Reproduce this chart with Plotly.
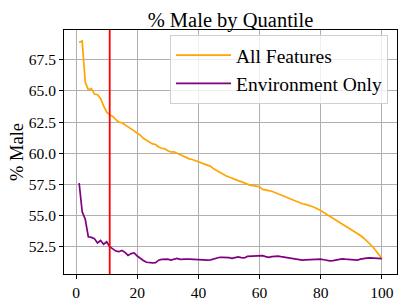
import plotly.graph_objects as go
import numpy as np

quantiles = list(range(1, 101))

all_features = [
    68.9, 69.0, 65.7, 65.1, 65.2, 64.75, 64.7, 64.4, 63.8, 63.3,
    63.1, 62.95, 62.7, 62.5, 62.45, 62.3, 62.1, 61.95, 61.8, 61.6,
    61.45, 61.2, 61.05, 60.95, 60.75, 60.7, 60.5, 60.4, 60.35, 60.2,
    60.1, 60.12, 60.0, 59.85, 59.75, 59.65, 59.55, 59.5, 59.4, 59.35,
    59.2, 59.1, 59.0, 58.95, 58.75, 58.6, 58.5, 58.3, 58.2, 58.1,
    57.98, 57.9, 57.8, 57.72, 57.6, 57.5, 57.42, 57.4, 57.38, 57.3,
    57.1, 57.02, 57.0, 56.95, 56.85, 56.75, 56.65, 56.5, 56.4, 56.3,
    56.22, 56.12, 56.05, 55.95, 55.9, 55.85, 55.75, 55.65, 55.55, 55.4,
    55.25, 55.1, 54.95, 54.8, 54.65, 54.5, 54.35, 54.2, 54.05, 53.9,
    53.75, 53.6, 53.4, 53.2, 52.98, 52.75, 52.5, 52.2, 51.9, 51.55,
]

environment_only = [
    57.6, 55.3, 54.7, 53.3, 53.25, 53.15, 52.8, 53.0, 52.7, 52.9,
    52.5, 52.3, 52.15, 52.1, 52.2, 52.05, 51.8, 51.95, 52.0, 51.75,
    51.55, 51.4, 51.25, 51.2, 51.2, 51.22, 51.42, 51.48, 51.52, 51.5,
    51.43, 51.5, 51.56, 51.48, 51.52, 51.5, 51.5, 51.48, 51.46, 51.43,
    51.43, 51.4, 51.42, 51.45, 51.52, 51.6, 51.65, 51.64, 51.65, 51.62,
    51.56, 51.65, 51.68, 51.62, 51.6, 51.72, 51.74, 51.76, 51.78, 51.8,
    51.78, 51.7, 51.65, 51.7, 51.74, 51.75, 51.7, 51.66, 51.62, 51.6,
    51.56, 51.5, 51.45, 51.43, 51.45, 51.46, 51.48, 51.5, 51.48, 51.5,
    51.45, 51.4, 51.36, 51.38, 51.44, 51.5, 51.53, 51.5, 51.48, 51.48,
    51.44, 51.43, 51.5, 51.56, 51.58, 51.6, 51.6, 51.58, 51.56, 51.55,
]

cutoff_quantile = 11

x_ticks = [0, 20, 40, 60, 80, 100]
y_ticks = [52.5, 55.0, 57.5, 60.0, 62.5, 65.0, 67.5]

FONT = "Liberation Serif"

fig = go.Figure()
fig.add_trace(go.Scatter(x=quantiles, y=all_features, mode="lines",
                         name="All Features",
                         line=dict(color="orange", width=1.7)))
fig.add_trace(go.Scatter(x=quantiles, y=environment_only, mode="lines",
                         name="Environment Only",
                         line=dict(color="purple", width=1.7)))

fig.add_shape(type="line", x0=cutoff_quantile, x1=cutoff_quantile,
              yref="paper", y0=0, y1=1, line=dict(color="red", width=1.8))

xmin, xmax = min(quantiles), max(quantiles)
xpad = 0.05 * (xmax - xmin)
allv = np.array(all_features + environment_only)
ymin, ymax = allv.min(), allv.max()
ypad = 0.05 * (ymax - ymin)

axis_common = dict(showline=True, linecolor="black", linewidth=1, mirror=True,
                   showgrid=True, gridcolor="#b0b0b0", gridwidth=0.8,
                   ticks="outside", ticklen=4, tickcolor="black",
                   tickfont=dict(family=FONT, size=15.5, color="black"),
                   zeroline=False, automargin=False)

fig.update_xaxes(range=[xmin - xpad, xmax + xpad], tickvals=x_ticks, **axis_common)
fig.update_yaxes(range=[ymin - ypad, ymax + ypad], tickvals=y_ticks,
                 tickformat=".1f",
                 title=dict(text="% Male", font=dict(family=FONT, size=18.5, color="black"),
                            standoff=0),
                 **axis_common)

fig.update_layout(
    width=407, height=305,
    margin=dict(l=64, r=10, t=30, b=31),
    paper_bgcolor="white", plot_bgcolor="white",
    font=dict(family=FONT, color="black"),
    title=dict(text="% Male by Quantile", x=0.5, xref="paper", xanchor="center",
               y=1, yref="paper", yanchor="bottom", pad=dict(b=3),
               font=dict(family=FONT, size=20.5, color="black")),
    showlegend=True,
    legend=dict(x=0.973, y=0.98, xanchor="right", yanchor="top",
                bgcolor="rgba(255,255,255,0.8)", bordercolor="#d0d0d0", borderwidth=1,
                font=dict(family=FONT, size=19.5, color="black"),
                itemwidth=55, traceorder="normal"),
)

fig.write_html("out.html", config={"displayModeBar": False},
               post_script="document.body.style.margin='0';document.body.style.padding='0';")
